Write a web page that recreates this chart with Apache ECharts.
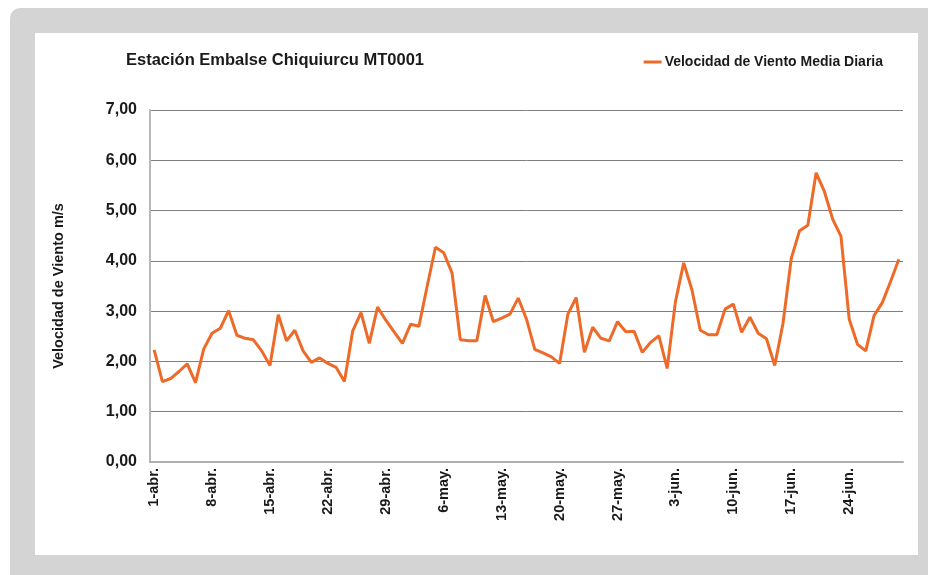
<!DOCTYPE html>
<html>
<head>
<meta charset="utf-8">
<script src="https://cdn.jsdelivr.net/npm/echarts@6/dist/echarts.min.js"></script>
<style>
  html, body { margin: 0; padding: 0; background: #fff; }
  #main { width: 928px; height: 575px; }
</style>
</head>
<body>
<div id="main"></div>
<script>
"use strict";
// chart data
var titleText = 'Estación Embalse Chiquiurcu MT0001';
var seriesName = 'Velocidad de Viento Media Diaria';
var months = ['abr.', 'may.', 'jun.'];
var monthDays = [30, 31, 30];
var yTicks = [0, 1, 2, 3, 4, 5, 6, 7];
var windSpeed = [
    2.23, 1.60, 1.66, 1.80, 1.95, 1.58, 2.25, 2.56, 2.66, 3.01,
    2.52, 2.46, 2.43, 2.21, 1.92, 2.93, 2.41, 2.62, 2.21, 1.98,
    2.07, 1.96, 1.88, 1.60, 2.61, 2.97, 2.36, 3.08, 2.82, 2.59,
    2.36, 2.74, 2.70, 3.50, 4.27, 4.16, 3.76, 2.43, 2.41, 2.41,
    3.31, 2.79, 2.86, 2.94, 3.26, 2.84, 2.24, 2.17, 2.09, 1.96,
    2.94, 3.27, 2.18, 2.68, 2.46, 2.41, 2.79, 2.59, 2.60, 2.18,
    2.38, 2.51, 1.86, 3.19, 3.96, 3.42, 2.62, 2.53, 2.53, 3.04,
    3.14, 2.58, 2.88, 2.56, 2.45, 1.92, 2.76, 4.05, 4.60, 4.71,
    5.75, 5.38, 4.83, 4.49, 2.84, 2.34, 2.21, 2.91, 3.17, 3.59,
    4.03
];

// day labels like "1-abr."
var days = [];
months.forEach(function(m, i) {
    for (var d = 1; d <= monthDays[i]; d++) {
        days.push(d + '-' + m);
    }
});

var font = 'Liberation Sans';
var myChart = echarts.init(document.getElementById('main'));
var option = {
    animation: false,
    textStyle: { fontFamily: font },
    graphic: [
        { type: 'rect', z: -10, shape: { x: 10, y: 8, width: 940, height: 600, r: 10 },
          style: { fill: '#d4d4d4' } },
        { type: 'rect', z: -9, shape: { x: 35, y: 33, width: 883, height: 522 },
          style: { fill: '#ffffff' } }
    ],
    title: {
        text: titleText,
        left: 121,
        top: 47,
        textStyle: { fontFamily: font, fontSize: 16.5, fontWeight: 'bold', color: '#1a1a1a' }
    },
    legend: {
        right: 40,
        top: 50,
        itemWidth: 18,
        itemHeight: 3,
        itemGap: 4,
        icon: 'rect',
        textStyle: { fontFamily: font, fontSize: 14, fontWeight: 'bold', color: '#1a1a1a', padding: [0, 0, 0, -2] },
        data: [seriesName]
    },
    grid: { left: 150, right: 25, top: 110, bottom: 113 },
    xAxis: {
        type: 'category',
        data: days,
        boundaryGap: true,
        axisLine: { lineStyle: { color: '#b0b0b0', width: 2 } },
        axisTick: { show: false },
        axisLabel: {
            interval: 6,
            rotate: 90,
            margin: 6,
            fontFamily: font,
            fontSize: 14.5,
            fontWeight: 'bold',
            color: '#1a1a1a'
        }
    },
    yAxis: {
        type: 'value',
        min: yTicks[0],
        max: yTicks[yTicks.length - 1],
        interval: 1,
        name: 'Velocidad de Viento m/s',
        nameLocation: 'middle',
        nameGap: 84,
        nameRotate: 90,
        nameTextStyle: { fontFamily: font, fontSize: 14.5, fontWeight: 'bold', color: '#1a1a1a' },
        axisLine: { show: true, lineStyle: { color: '#b8b8b8', width: 2 } },
        axisTick: { show: false },
        splitLine: { lineStyle: { color: '#7f7f7f', width: 1 } },
        axisLabel: {
            margin: 13,
            fontFamily: font,
            fontSize: 16,
            fontWeight: 'bold',
            color: '#1a1a1a',
            formatter: function(v) { return v.toFixed(2).replace('.', ','); }
        }
    },
    series: [
        {
            name: seriesName,
            type: 'line',
            data: windSpeed,
            symbol: 'none',
            color: '#ed6a28',
            lineStyle: { width: 3, color: '#ed6a28' }
        }
    ]
};
myChart.setOption(option);
</script>
</body>
</html>
